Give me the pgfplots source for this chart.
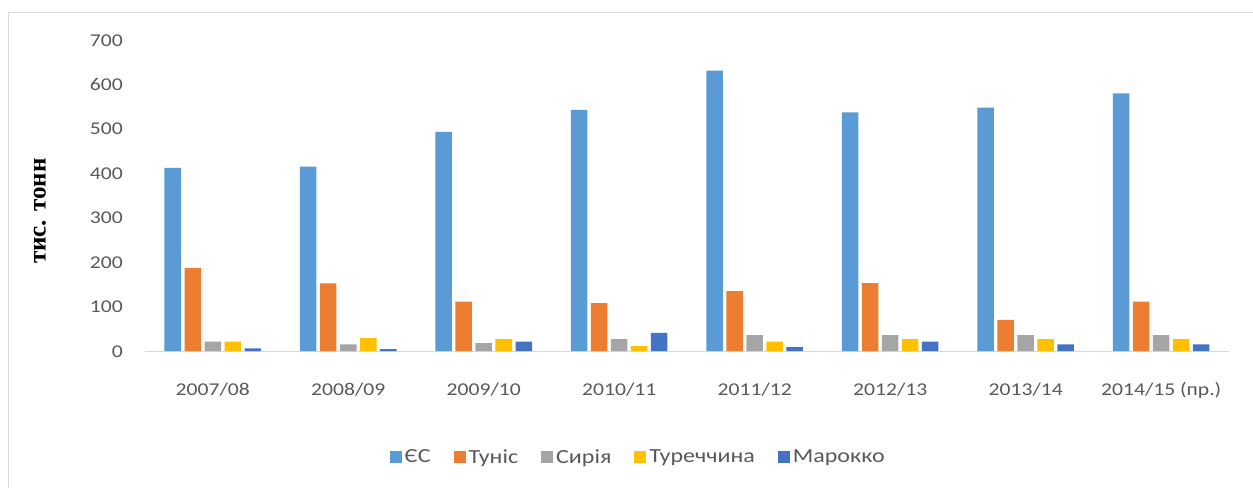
\documentclass[border=0pt]{standalone}
\usepackage{pgfplots}
\pgfplotsset{compat=1.18}
\usepackage{fontspec}
\setmainfont{Carlito}
\newfontfamily\tickfont[FakeStretch=1.2]{Carlito}
\newfontfamily\labfont{Liberation Serif}
\definecolor{cEU}{HTML}{5B9BD5}
\definecolor{cTN}{HTML}{ED7D31}
\definecolor{cSY}{HTML}{A5A5A5}
\definecolor{cTR}{HTML}{FFC000}
\definecolor{cMA}{HTML}{4472C4}
\definecolor{txt}{HTML}{595959}
\definecolor{axl}{HTML}{D9D9D9}
\begin{document}
\begin{tikzpicture}
\useasboundingbox (0,0) rectangle (1253pt,488pt);
\fill[white] (0,0) rectangle (1253pt,488pt);
\draw[axl, line width=1pt] (8.5pt,0) -- (8.5pt,475pt) -- (1253pt,475pt);
\begin{axis}[
  at={(145pt,137pt)}, anchor=south west,
  scale only axis, width=1084pt, height=311pt,
  ybar=3.5pt, bar width=16.5pt,
  xmin=-0.5, xmax=7.5, ymin=0, ymax=700,
  xtick={0,...,7},
  xticklabels={2007/08,2008/09,2009/10,2010/11,2011/12,2012/13,2013/14,{2014/15 (пр.)}},
  ytick={0,100,...,700},
  major tick length=0pt,
  axis x line*=bottom, axis y line*=left,
  x axis line style={draw=axl, line width=1pt, -},
  y axis line style={draw=none},
  /pgf/number format/assume math mode=true,
  ticklabel style={font=\tickfont\fontsize{18}{20}\selectfont, text=txt},
  xticklabel style={anchor=base, inner sep=0pt, yshift=-44pt},
  yticklabel style={anchor=base east, inner sep=0pt, xshift=-22pt, yshift=-6pt},
  ylabel={тис. тонн},
  ylabel style={font=\labfont\bfseries\fontsize{25}{27}\selectfont, at={(axis description cs:-0.097,0.45)}, anchor=center},
  legend columns=5,
  legend style={at={(0.455,-0.341)}, anchor=center, draw=none, fill=none,
    font=\tickfont\fontsize{20}{22}\selectfont, text=txt,
    /tikz/every even column/.append style={column sep=21pt},
    /tikz/every odd column/.append style={column sep=1pt}},
  legend image code/.code={\fill[#1] (0pt,-6pt) rectangle (12pt,6pt);},
]
\addplot[fill=cEU, draw=none] coordinates {(0,412) (1,415) (2,493) (3,543) (4,631) (5,537) (6,548) (7,580)};
\addplot[fill=cTN, draw=none] coordinates {(0,187) (1,152) (2,111) (3,108) (4,135) (5,153) (6,70) (7,111)};
\addplot[fill=cSY, draw=none] coordinates {(0,21) (1,15) (2,18) (3,27) (4,36) (5,36) (6,36) (7,36)};
\addplot[fill=cTR, draw=none] coordinates {(0,21) (1,29) (2,27) (3,11) (4,21) (5,27) (6,27) (7,27)};
\addplot[fill=cMA, draw=none] coordinates {(0,6) (1,4) (2,21) (3,41) (4,9) (5,21) (6,15) (7,15)};
\legend{ЄС,Туніс,Сирія,Туреччина,Марокко}
\end{axis}
\end{tikzpicture}
\end{document}
